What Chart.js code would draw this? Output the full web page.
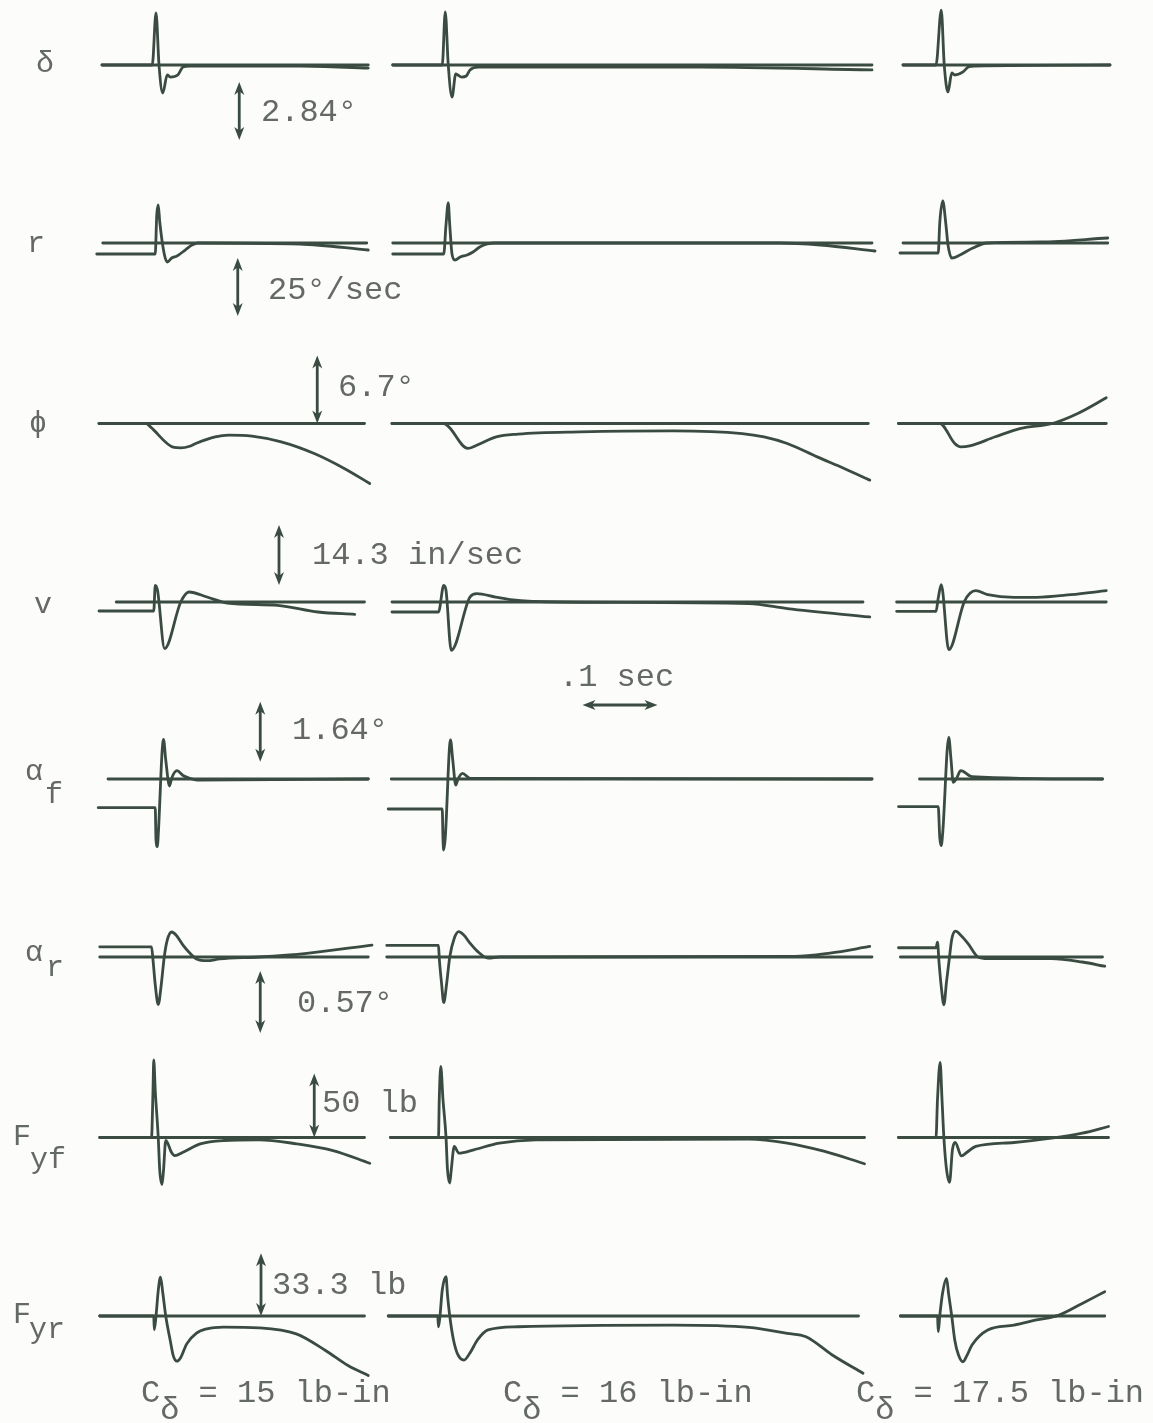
<!DOCTYPE html>
<html>
<head>
<meta charset="utf-8">
<title>Response to a steer-torque pulse</title>
<script src="https://cdn.jsdelivr.net/npm/chart.js@4.4.1/dist/chart.umd.min.js"></script>
<style>
  html, body { margin: 0; padding: 0; background: #fcfcfa; }
  #page { position: relative; width: 1153px; height: 1423px; overflow: hidden; background: #fcfcfa; }
  #page canvas { position: absolute; left: 0; top: 0; pointer-events: none; }
  .tw { position: absolute; font-family: "Liberation Mono", "DejaVu Sans Mono", monospace;
        color: #646965; white-space: pre; line-height: 1; }
  .sub { position: relative; }
</style>
</head>
<body>
<div id="page"></div>
<script>
// ---- recorded traces: [time in ms within the strip, signal value] ----
// columns: C_delta = 15, 16 and 17.5 lb-in

// steer angle delta (deg)
const deltaC15  = [[8,0],[75,0],[80,2.55],[84,0],[89,-1.37],[95,-0.49],[99,-0.59],[109,-0.49],[116,-0.10],[125,-0.05],[272,-0.05],[363,-0.15]];
const deltaC16  = [[9,0],[75,0],[79,2.60],[83,0],[88,-1.57],[93,-0.44],[101,-0.59],[107,-0.54],[112,-0.24],[123,-0.10],[419,-0.10],[648,-0.24]];
const deltaC175 = [[12,0],[56,0],[63,2.69],[67,0],[72,-1.32],[77,-0.39],[81,-0.49],[92,-0.34],[99,-0.10],[108,-0.05],[288,0]];
const deltaZero = [[8,363],[9,648],[12,288]];

// yaw rate r (deg/sec)
const rC15  = [[1,-4.74],[79,-4.74],[81,12.07],[83,16.38],[85,9.05],[91,-4.74],[95,-8.19],[101,-6.47],[108,-5.60],[119,-3.02],[128,-0.86],[136,0],[272,-0.43],[363,-3.02]];
const rC16  = [[9,-4.74],[77,-4.74],[80,7.76],[83,17.24],[85,7.76],[88,-4.74],[92,-7.33],[99,-6.03],[108,-5.17],[116,-3.88],[125,-1.72],[135,-0.43],[145,0],[525,0],[579,-0.86],[652,-3.45]];
const rC175 = [[8,-4.31],[59,-4.31],[61,8.62],[65,18.1],[69,8.62],[72,-0.86],[77,-6.47],[88,-5.17],[105,-2.16],[124,0],[195,0.43],[285,2.16]];
const rZero = [[9,361],[9,648],[12,285]];

// roll angle phi (deg)
const phiC15  = [[4,0],[67,0],[73,-0.36],[104,-2.36],[113,-2.40],[125,-2.24],[133,-1.97],[159,-1.32],[177,-1.15],[208,-1.25],[247,-1.81],[291,-2.96],[331,-4.43],[365,-5.91]];
const phiC16  = [[8,0],[77,0],[84,-0.36],[109,-2.46],[121,-2.14],[147,-1.32],[176,-1.05],[259,-0.83],[383,-0.73],[475,-0.99],[504,-1.32],[535,-1.97],[575,-3.29],[611,-4.43],[645,-5.58]];
const phiC175 = [[6,0],[61,0],[81,-1.97],[89,-2.30],[101,-2.20],[135,-1.31],[169,-0.49],[211,0],[245,0.99],[283,2.53]];
const phiZero = [[4,358],[8,643],[6,283]];

// lateral velocity v (in/sec)
const vC15  = [[4,-2.14],[77,-2.14],[79,3.98],[82,2.79],[91.5,-11.10],[113,0],[124,2.38],[148,1.19],[175,-0.24],[242,-0.79],[296,-2.38],[345,-2.93]];
const vC16  = [[8,-2.38],[70,-2.38],[77,3.98],[80,2.79],[87,-11.51],[112,1.19],[121,2.00],[146,1.19],[166,0.57],[232,0],[484,-0.38],[535,-1.57],[645,-3.57]];
const vC175 = [[3.5,-2.22],[56,-2.22],[59,0.95],[63,4.12],[73,-11.37],[94,0.17],[109,2.69],[125,1.74],[160,1.12],[190,1.12],[236,1.74],[283,2.69]];
const vZero = [[27,358],[8,636],[3.5,283]];

// front slip angle alpha_f (deg)
const afC15  = [[3,-0.784],[79,-0.784],[80,-1.667],[82,-1.850],[83,-1.530],[90,1.085],[93,0.519],[98,-0.191],[101,0.027],[108,0.227],[116,0.096],[125,0.019],[135,-0.027],[363,0]];
const afC16  = [[3,-0.820],[75,-0.820],[76,-1.667],[77,-1.940],[79,-1.612],[86,1.066],[89,0.519],[93,-0.164],[96,0],[102,0.156],[112,0.019],[648,0]];
const afC175 = [[6,-0.754],[59,-0.754],[61,-1.593],[63,-1.820],[65,-1.457],[73,1.140],[76,0.538],[79,-0.090],[83,0],[89,0.230],[104,0.066],[278,0]];
const afZero = [[16,363],[7,648],[34,278]];

// rear slip angle alpha_r (deg)
const arC15  = [[5,0.094],[74,0.094],[76,-0.027],[79,-0.255],[83,-0.437],[87,-0.255],[91,0],[95,0.155],[101,0.230],[107,0.200],[116,0.109],[125,0.036],[134,-0.018],[148,-0.034],[165,-0.018],[217,0],[281,0.034],[368,0.109]];
const arC16  = [[1,0.106],[70,0.106],[71,-0.009],[74,-0.237],[77,-0.419],[81,-0.237],[85,0],[91,0.173],[97,0.234],[104,0.200],[112,0.127],[122,0.052],[136,-0.009],[152,0],[545,0.005],[592,0.036],[645,0.097]];
const arC175 = [[6,0.085],[56,0.085],[58,0.137],[60,-0.046],[63,-0.273],[66.5,-0.440],[70,-0.228],[74,0],[77,0.164],[82,0.237],[89,0.200],[99,0.121],[112,0],[125,-0.015],[210,-0.015],[251,-0.046],[281,-0.085]];
const arZero = [[5,363],[1,648],[8.5,278]];

// front lateral tyre force F_yf (lb)
const fyfC15  = [[5,0],[74,0],[76,36.7],[77,60.7],[79,36.7],[83,0],[85,-25.8],[88,-36.7],[90,-25.8],[93,-2.34],[96,-4.92],[100,-10.9],[105,-14.1],[116,-11.5],[139,-4.92],[170,-2.34],[217,-1.80],[267,-4.92],[316,-10.2],[365,-20.1]];
const fyfC16  = [[6,0],[70,0],[71,29.4],[73,55.5],[76,29.4],[80,0.5],[82,-25.2],[85,-35.6],[87,-25.2],[91,-7.0],[97,-12.2],[117,-9.6],[151,-4.4],[200,-1.8],[484,-1.25],[535,-4.4],[585,-10.9],[638,-20.5]];
const fyfC175 = [[6,0],[56,0],[58,29.9],[61.5,58.6],[64,29.9],[66.5,0],[70,-24.8],[74,-35.1],[78,-9.1],[81.6,-3.9],[90,-14.4],[97,-11.7],[109,-7.0],[160,-3.9],[210,-0.55],[251,3.4],[286,8.6]];
const fyfZero = [[5,358],[6,638],[6,286]];

// rear lateral tyre force F_yr (lb)
const fyrC15  = [[5,0],[77,0],[77.7,-7.2],[80,0],[83,13.5],[86,20.6],[89,12.5],[93,0],[99,-13.0],[103,-21.0],[108,-24.0],[113,-22.0],[121,-14.8],[134,-9.1],[148,-6.8],[170,-5.9],[217,-6.3],[267,-9.5],[306,-18.3],[336,-26.3],[363,-31.6]];
const fyrC16  = [[3,0],[69,0],[70,-5.7],[72,0],[75,13.8],[80,20.9],[82,11.2],[85,0],[90,-12.7],[96,-20.7],[104,-23.4],[112,-19.6],[122,-12.7],[136,-7.4],[176,-5.7],[383,-4.8],[484,-6.0],[535,-9.2],[560,-11.0],[595,-20.7],[636,-30.4]];
const fyrC175 = [[8.5,0],[58,0],[59,-8.3],[61,0],[65,12.7],[70,20.0],[73,11.2],[77,0],[81,-12.7],[86,-20.7],[92,-24.3],[97,-21.2],[104,-15.4],[125,-7.4],[160,-4.8],[190,-2.1],[220,0.5],[251,6.7],[281,12.9]];
const fyrZero = [[5,358],[3,630],[8.5,281]];

// row symbols [main, subscript], scale-bar values and units
const rowSymbols  = [['δ',''],['r',''],['ϕ',''],['v',''],['α','f'],['α','r'],['F','yf'],['F','yr']];
const scaleValues = [2.84, 25, 6.7, 14.3, 1.64, 0.57, 50, 33.3];
const scaleUnits  = ['°', '°/sec', '°', ' in/sec', '°', '°', ' lb', ' lb'];
const stiffness   = [15, 16, 17.5];          // C_delta, lb-in
const timeBarMs   = 100;                     // horizontal time reference

// ---- layout ----
const INK = '#3a4b42';
const PAGE_W = 1153, PAGE_H = 1423;
const PX_PER_MS = 0.75;
const stripLeftPx = [96, 386, 894];
const stripOffsetMs = stripLeftPx.map(x => (x - stripLeftPx[0]) / PX_PER_MS);

const rowTraces = [
  [deltaC15, deltaC16, deltaC175], [rC15, rC16, rC175], [phiC15, phiC16, phiC175], [vC15, vC16, vC175],
  [afC15, afC16, afC175], [arC15, arC16, arC175], [fyfC15, fyfC16, fyfC175], [fyrC15, fyrC16, fyrC175]
];
const rowZeros = [deltaZero, rZero, phiZero, vZero, afZero, arZero, fyfZero, fyrZero];

// zeroPx: page y of the zero line, barPx: drawn length of the scale bar,
// bar: where the scale bar sits (ms in first strip, start value, direction)
const rowLayout = [
  { zeroPx: 65,     barPx: 58,   barMs: 191, barFrom: -0.83,  barDir: -1 },
  { zeroPx: 243,    barPx: 58,   barMs: 189, barFrom: -6.47,  barDir: -1 },
  { zeroPx: 423.5,  barPx: 68,   barMs: 295, barFrom: 0,      barDir: 1 },
  { zeroPx: 602,    barPx: 60,   barMs: 244, barFrom: 4.05,   barDir: 1 },
  { zeroPx: 779,    barPx: 60,   barMs: 219, barFrom: 0.473,  barDir: 1 },
  { zeroPx: 957,    barPx: 62,   barMs: 219, barFrom: -0.129, barDir: -1 },
  { zeroPx: 1137.5, barPx: 64,   barMs: 291, barFrom: 0,      barDir: 1 },
  { zeroPx: 1316,   barPx: 62.7, barMs: 220, barFrom: 0,      barDir: 1 }
];
const timeBar = { row: 3, strip: 1, startMs: 262, yPx: 705 };

// ---- drawing helpers ----
function arrowHead(ctx, x, y, dx, dy) {
  // filled head with its tip at (x, y), pointing along (dx, dy)
  const len = 13, half = 5;
  const px = -dy, py = dx;
  ctx.beginPath();
  ctx.moveTo(x, y);
  ctx.lineTo(x - dx * len + px * half, y - dy * len + py * half);
  ctx.lineTo(x - dx * len * 0.72, y - dy * len * 0.72);
  ctx.lineTo(x - dx * len - px * half, y - dy * len - py * half);
  ctx.closePath();
  ctx.fill();
}

const scaleBarPlugin = {
  id: 'scaleBar',
  afterDatasetsDraw(chart, args, opts) {
    const { ctx, scales } = chart;
    ctx.save();
    ctx.strokeStyle = INK; ctx.fillStyle = INK; ctx.lineWidth = 2.8; ctx.lineCap = 'butt';
    if (opts.bar) {
      const b = opts.bar;
      const x = scales.x.getPixelForValue(b.ms);
      const y1 = scales.y.getPixelForValue(b.from);
      const y2 = scales.y.getPixelForValue(b.from + b.dir * b.value);
      const top = Math.min(y1, y2), bot = Math.max(y1, y2);
      ctx.beginPath(); ctx.moveTo(x, top + 8); ctx.lineTo(x, bot - 8); ctx.stroke();
      arrowHead(ctx, x, top, 0, -1);
      arrowHead(ctx, x, bot, 0, 1);
    }
    if (opts.time) {
      const t = opts.time;
      const x1 = scales.x.getPixelForValue(t.startMs + stripOffsetMs[t.strip]);
      const x2 = scales.x.getPixelForValue(t.startMs + t.lengthMs + stripOffsetMs[t.strip]);
      ctx.beginPath(); ctx.moveTo(x1 + 8, t.yPx); ctx.lineTo(x2 - 8, t.yPx); ctx.stroke();
      arrowHead(ctx, x1, t.yPx, -1, 0);
      arrowHead(ctx, x2, t.yPx, 1, 0);
    }
    ctx.restore();
  }
};

const page = document.getElementById('page');
const xMin = -stripLeftPx[0] / PX_PER_MS;
const xMax = (PAGE_W - stripLeftPx[0]) / PX_PER_MS;

rowTraces.forEach((traces, i) => {
  const L = rowLayout[i];
  const pxPerUnit = L.barPx / scaleValues[i];
  const canvas = document.createElement('canvas');
  canvas.width = PAGE_W; canvas.height = PAGE_H;
  canvas.style.width = PAGE_W + 'px'; canvas.style.height = PAGE_H + 'px';
  page.appendChild(canvas);

  const datasets = [];
  traces.forEach((trace, s) => {
    const off = stripOffsetMs[s];
    const [a, b] = rowZeros[i][s];
    datasets.push({ data: [{ x: a + off, y: 0 }, { x: b + off, y: 0 }], tension: 0 });
    datasets.push({ data: trace.map(([t, v]) => ({ x: t + off, y: v })), cubicInterpolationMode: 'monotone' });
  });

  new Chart(canvas, {
    type: 'line',
    data: { datasets },
    options: {
      responsive: false, animation: false, events: [],
      layout: { padding: 0 },
      parsing: false, normalized: true,
      elements: {
        point: { radius: 0 },
        line: { borderColor: INK, borderWidth: 2.8, borderCapStyle: 'round', borderJoinStyle: 'round', fill: false }
      },
      scales: {
        x: { type: 'linear', display: false, min: xMin, max: xMax },
        y: { type: 'linear', display: false, min: -(PAGE_H - L.zeroPx) / pxPerUnit, max: L.zeroPx / pxPerUnit }
      },
      plugins: {
        legend: { display: false }, tooltip: { enabled: false },
        scaleBar: {
          bar: { ms: L.barMs, from: L.barFrom, dir: L.barDir, value: scaleValues[i] },
          time: i === timeBar.row ? { ...timeBar, lengthMs: timeBarMs } : null
        }
      }
    },
    plugins: [scaleBarPlugin]
  });
});

// ---- typed text ----
function addText(html, left, top, size) {
  const el = document.createElement('div');
  el.className = 'tw';
  el.style.left = left + 'px'; el.style.top = top + 'px'; el.style.fontSize = size + 'px';
  el.innerHTML = html;
  page.appendChild(el);
  return el;
}

// row symbols: [left, top of main glyph, left, top of subscript]
const symbolPos = [
  [36, 49, 0, 0], [27, 229, 0, 0], [29, 409, 0, 0], [34, 590, 0, 0],
  [25, 757, 45, 780], [25, 938, 46, 953], [13, 1122, 30, 1145], [13, 1300, 29, 1315]
];
rowSymbols.forEach(([main, sub], i) => {
  const p = symbolPos[i];
  addText(main, p[0], p[1], 30);
  if (sub) addText(sub, p[2], p[3], 30);
});

// scale-bar captions: [left, centre y]
const scaleTextPos = [[261,112],[268,290],[338,387],[312,555],[292,730],[297,1003],[322,1103],[272,1285]];
scaleValues.forEach((v, i) => {
  const [x, cy] = scaleTextPos[i];
  addText(String(v) + scaleUnits[i], x, cy - 15, 32);
});

// time reference caption
addText('.' + (timeBarMs / 100) + ' sec', 559, 677 - 15, 32);

// stiffness captions under each strip
const captionLeft = [141, 503, 856];
stiffness.forEach((c, s) => {
  addText('C<span class="sub" style="top:17px">δ</span> = ' + c + ' lb-in', captionLeft[s], 1393 - 15, 32);
});
</script>
</body>
</html>
